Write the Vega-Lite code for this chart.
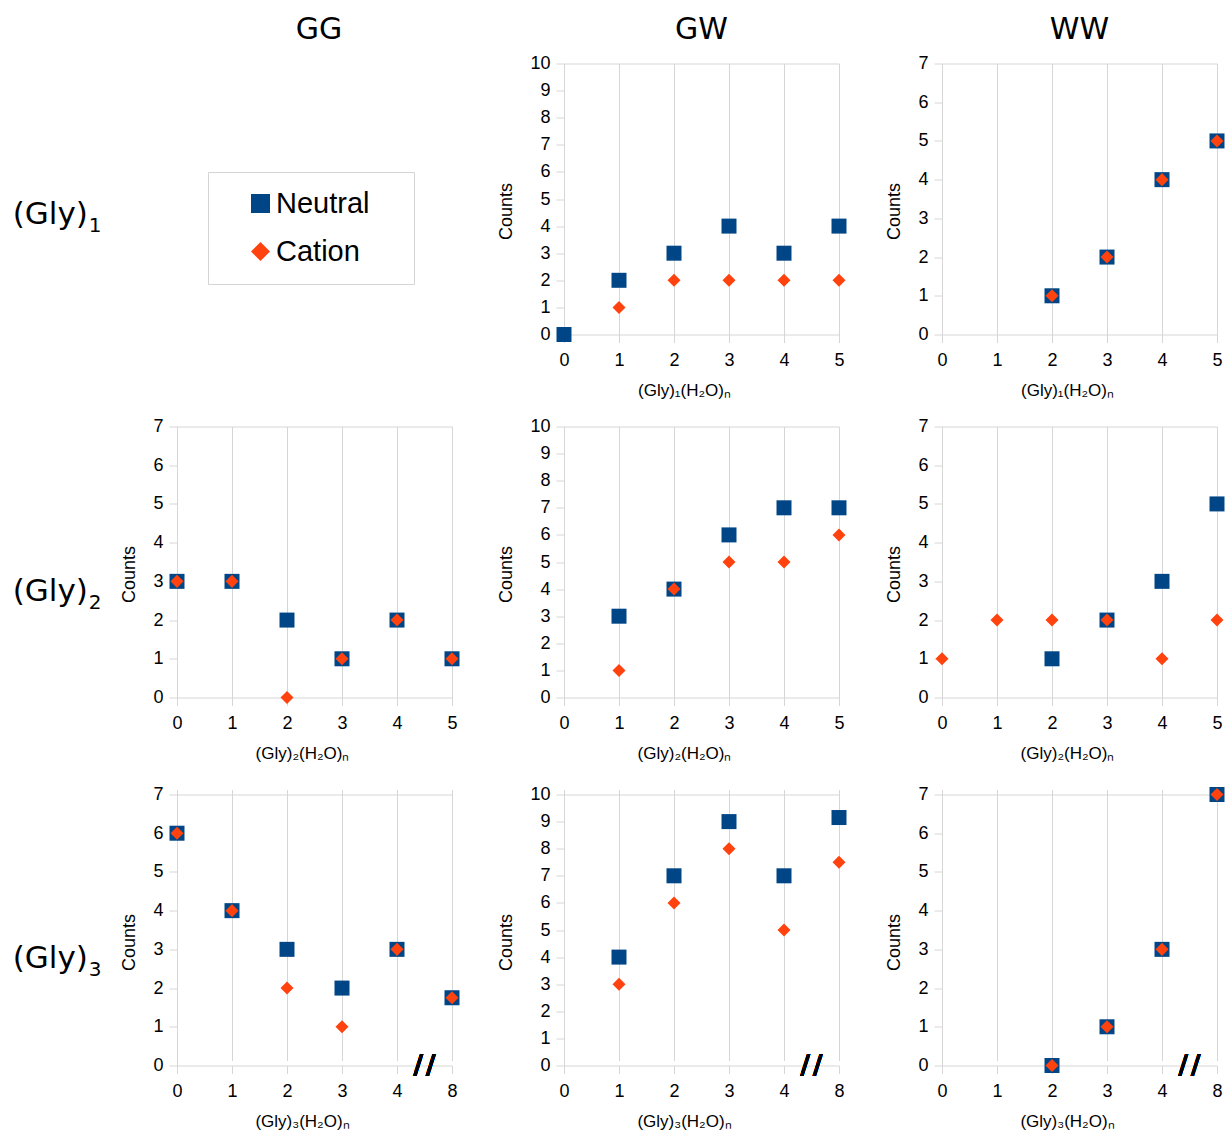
{
  "$schema": "https://vega.github.io/schema/vega-lite/v6.json",
  "padding": {"left": 0, "top": 14.5, "right": 2, "bottom": 2},
  "background": "white",
  "datasets": {
    "pts": [
      {"r": 1, "c": "GW", "n": 0, "t": "Neutral", "v": 0},
      {"r": 1, "c": "GW", "n": 1, "t": "Neutral", "v": 2},
      {"r": 1, "c": "GW", "n": 2, "t": "Neutral", "v": 3},
      {"r": 1, "c": "GW", "n": 3, "t": "Neutral", "v": 4},
      {"r": 1, "c": "GW", "n": 4, "t": "Neutral", "v": 3},
      {"r": 1, "c": "GW", "n": 5, "t": "Neutral", "v": 4},
      {"r": 1, "c": "GW", "n": 1, "t": "Cation", "v": 1},
      {"r": 1, "c": "GW", "n": 2, "t": "Cation", "v": 2},
      {"r": 1, "c": "GW", "n": 3, "t": "Cation", "v": 2},
      {"r": 1, "c": "GW", "n": 4, "t": "Cation", "v": 2},
      {"r": 1, "c": "GW", "n": 5, "t": "Cation", "v": 2},
      {"r": 1, "c": "WW", "n": 2, "t": "Neutral", "v": 1},
      {"r": 1, "c": "WW", "n": 3, "t": "Neutral", "v": 2},
      {"r": 1, "c": "WW", "n": 4, "t": "Neutral", "v": 4},
      {"r": 1, "c": "WW", "n": 5, "t": "Neutral", "v": 5},
      {"r": 1, "c": "WW", "n": 2, "t": "Cation", "v": 1},
      {"r": 1, "c": "WW", "n": 3, "t": "Cation", "v": 2},
      {"r": 1, "c": "WW", "n": 4, "t": "Cation", "v": 4},
      {"r": 1, "c": "WW", "n": 5, "t": "Cation", "v": 5},
      {"r": 2, "c": "GG", "n": 0, "t": "Neutral", "v": 3},
      {"r": 2, "c": "GG", "n": 1, "t": "Neutral", "v": 3},
      {"r": 2, "c": "GG", "n": 2, "t": "Neutral", "v": 2},
      {"r": 2, "c": "GG", "n": 3, "t": "Neutral", "v": 1},
      {"r": 2, "c": "GG", "n": 4, "t": "Neutral", "v": 2},
      {"r": 2, "c": "GG", "n": 5, "t": "Neutral", "v": 1},
      {"r": 2, "c": "GG", "n": 0, "t": "Cation", "v": 3},
      {"r": 2, "c": "GG", "n": 1, "t": "Cation", "v": 3},
      {"r": 2, "c": "GG", "n": 2, "t": "Cation", "v": 0},
      {"r": 2, "c": "GG", "n": 3, "t": "Cation", "v": 1},
      {"r": 2, "c": "GG", "n": 4, "t": "Cation", "v": 2},
      {"r": 2, "c": "GG", "n": 5, "t": "Cation", "v": 1},
      {"r": 2, "c": "GW", "n": 1, "t": "Neutral", "v": 3},
      {"r": 2, "c": "GW", "n": 2, "t": "Neutral", "v": 4},
      {"r": 2, "c": "GW", "n": 3, "t": "Neutral", "v": 6},
      {"r": 2, "c": "GW", "n": 4, "t": "Neutral", "v": 7},
      {"r": 2, "c": "GW", "n": 5, "t": "Neutral", "v": 7},
      {"r": 2, "c": "GW", "n": 1, "t": "Cation", "v": 1},
      {"r": 2, "c": "GW", "n": 2, "t": "Cation", "v": 4},
      {"r": 2, "c": "GW", "n": 3, "t": "Cation", "v": 5},
      {"r": 2, "c": "GW", "n": 4, "t": "Cation", "v": 5},
      {"r": 2, "c": "GW", "n": 5, "t": "Cation", "v": 6},
      {"r": 2, "c": "WW", "n": 2, "t": "Neutral", "v": 1},
      {"r": 2, "c": "WW", "n": 3, "t": "Neutral", "v": 2},
      {"r": 2, "c": "WW", "n": 4, "t": "Neutral", "v": 3},
      {"r": 2, "c": "WW", "n": 5, "t": "Neutral", "v": 5},
      {"r": 2, "c": "WW", "n": 0, "t": "Cation", "v": 1},
      {"r": 2, "c": "WW", "n": 1, "t": "Cation", "v": 2},
      {"r": 2, "c": "WW", "n": 2, "t": "Cation", "v": 2},
      {"r": 2, "c": "WW", "n": 3, "t": "Cation", "v": 2},
      {"r": 2, "c": "WW", "n": 4, "t": "Cation", "v": 1},
      {"r": 2, "c": "WW", "n": 5, "t": "Cation", "v": 2},
      {"r": 3, "c": "GG", "n": 0, "t": "Neutral", "v": 6},
      {"r": 3, "c": "GG", "n": 1, "t": "Neutral", "v": 4},
      {"r": 3, "c": "GG", "n": 2, "t": "Neutral", "v": 3},
      {"r": 3, "c": "GG", "n": 3, "t": "Neutral", "v": 2},
      {"r": 3, "c": "GG", "n": 4, "t": "Neutral", "v": 3},
      {"r": 3, "c": "GG", "n": 8, "t": "Neutral", "v": 1.75},
      {"r": 3, "c": "GG", "n": 0, "t": "Cation", "v": 6},
      {"r": 3, "c": "GG", "n": 1, "t": "Cation", "v": 4},
      {"r": 3, "c": "GG", "n": 2, "t": "Cation", "v": 2},
      {"r": 3, "c": "GG", "n": 3, "t": "Cation", "v": 1},
      {"r": 3, "c": "GG", "n": 4, "t": "Cation", "v": 3},
      {"r": 3, "c": "GG", "n": 8, "t": "Cation", "v": 1.75},
      {"r": 3, "c": "GW", "n": 1, "t": "Neutral", "v": 4},
      {"r": 3, "c": "GW", "n": 2, "t": "Neutral", "v": 7},
      {"r": 3, "c": "GW", "n": 3, "t": "Neutral", "v": 9},
      {"r": 3, "c": "GW", "n": 4, "t": "Neutral", "v": 7},
      {"r": 3, "c": "GW", "n": 8, "t": "Neutral", "v": 9.15},
      {"r": 3, "c": "GW", "n": 1, "t": "Cation", "v": 3},
      {"r": 3, "c": "GW", "n": 2, "t": "Cation", "v": 6},
      {"r": 3, "c": "GW", "n": 3, "t": "Cation", "v": 8},
      {"r": 3, "c": "GW", "n": 4, "t": "Cation", "v": 5},
      {"r": 3, "c": "GW", "n": 8, "t": "Cation", "v": 7.5},
      {"r": 3, "c": "WW", "n": 2, "t": "Neutral", "v": 0},
      {"r": 3, "c": "WW", "n": 3, "t": "Neutral", "v": 1},
      {"r": 3, "c": "WW", "n": 4, "t": "Neutral", "v": 3},
      {"r": 3, "c": "WW", "n": 8, "t": "Neutral", "v": 7},
      {"r": 3, "c": "WW", "n": 2, "t": "Cation", "v": 0},
      {"r": 3, "c": "WW", "n": 3, "t": "Cation", "v": 1},
      {"r": 3, "c": "WW", "n": 4, "t": "Cation", "v": 3},
      {"r": 3, "c": "WW", "n": 8, "t": "Cation", "v": 7}
    ]
  },
  "columns": 4,
  "align": "each",
  "bounds": "flush",
  "spacing": {"row": 92, "column": 103},
  "concat": [
    {
      "width": 73.5, "height": 271,
      "data": {"values": [{"base": "(Gly)", "sub": "1"}]},
      "layer": [
        {"mark": {"type": "text", "font": "DejaVu Sans", "fontSize": 31, "color": "#000", "align": "left", "baseline": "alphabetic", "dx": -24, "dy": 24.5}, "encoding": {"text": {"field": "base", "type": "nominal"}}},
        {"mark": {"type": "text", "font": "DejaVu Sans", "fontSize": 20, "color": "#000", "align": "left", "baseline": "alphabetic", "dx": 52, "dy": 32.5}, "encoding": {"text": {"field": "sub", "type": "nominal"}}}
      ]
    },
    {
      "width": 284, "height": 271,
      "title": {"text": "GG", "offset": 19},
      "data": {"values": [{"label": ""}]},
      "mark": {"type": "text"},
      "encoding": {"text": {"field": "label", "type": "nominal"}}
    },
    {
      "width": 275, "height": 271,
      "title": {"text": "GW", "offset": 10},
      "data": {"name": "pts"},
      "transform": [{"filter": "datum.r == 1 && datum.c == 'GW'"}],
      "encoding": {
        "x": {"field": "n", "type": "ordinal", "scale": {"type": "point", "padding": 0, "domain": [0, 1, 2, 3, 4, 5]}, "axis": {"title": "(Gly)₁(H₂O)ₙ", "grid": true, "labelAngle": 0, "titleX": 120}},
        "y": {"field": "v", "type": "quantitative", "scale": {"domain": [0, 10], "nice": false}, "axis": {"title": "Counts", "tickCount": 10, "grid": true, "titleY": 147.5, "gridOpacity": {"condition": {"test": "datum.value == 10", "value": 1}, "value": 0}}},
        "color": {"field": "t", "type": "nominal", "scale": {"domain": ["Neutral", "Cation"], "range": ["#004586", "#ff420e"]},
          "legend": {"orient": "none", "legendX": 208, "legendY": 108.5, "title": ".", "titleOrient": "right", "titleOpacity": 0, "titleFontSize": 2, "titlePadding": 27, "labelFont": "Liberation Sans", "labelFontSize": 29, "labelColor": "#000", "symbolSize": 361, "symbolStrokeWidth": 0, "strokeColor": "#d4d4d4", "padding": 17, "rowPadding": 18, "symbolOffset": 21, "labelOffset": 1}},
        "shape": {"field": "t", "type": "nominal", "scale": {"domain": ["Neutral", "Cation"], "range": ["square", "diamond"]},
          "legend": {"orient": "none", "legendX": 208, "legendY": 108.5, "title": ".", "titleOrient": "right", "titleOpacity": 0, "titleFontSize": 2, "titlePadding": 27, "labelFont": "Liberation Sans", "labelFontSize": 29, "labelColor": "#000", "symbolSize": 361, "symbolStrokeWidth": 0, "strokeColor": "#d4d4d4", "padding": 17, "rowPadding": 18, "symbolOffset": 21, "labelOffset": 1}}
      },
      "layer": [
        {"transform": [{"filter": "datum.t == 'Neutral'"}], "mark": {"type": "point", "filled": true, "opacity": 1, "size": 225}},
        {"transform": [{"filter": "datum.t == 'Cation'"}], "mark": {"type": "point", "filled": true, "opacity": 1, "size": 170}}
      ]
    },
    {
      "width": 275, "height": 271,
      "title": {"text": "WW", "offset": 10},
      "data": {"name": "pts"},
      "transform": [{"filter": "datum.r == 1 && datum.c == 'WW'"}],
      "encoding": {
        "x": {"field": "n", "type": "ordinal", "scale": {"type": "point", "padding": 0, "domain": [0, 1, 2, 3, 4, 5]}, "axis": {"title": "(Gly)₁(H₂O)ₙ", "grid": true, "labelAngle": 0, "titleX": 125}},
        "y": {"field": "v", "type": "quantitative", "scale": {"domain": [0, 7], "nice": false}, "axis": {"title": "Counts", "tickCount": 7, "grid": true, "titleY": 147.5, "gridOpacity": {"condition": {"test": "datum.value == 7", "value": 1}, "value": 0}}},
        "color": {"field": "t", "type": "nominal", "scale": {"domain": ["Neutral", "Cation"], "range": ["#004586", "#ff420e"]}, "legend": null},
        "shape": {"field": "t", "type": "nominal", "scale": {"domain": ["Neutral", "Cation"], "range": ["square", "diamond"]}, "legend": null}
      },
      "layer": [
        {"transform": [{"filter": "datum.t == 'Neutral'"}], "mark": {"type": "point", "filled": true, "opacity": 1, "size": 225}},
        {"transform": [{"filter": "datum.t == 'Cation'"}], "mark": {"type": "point", "filled": true, "opacity": 1, "size": 170}}
      ]
    },
    {
      "width": 73.5, "height": 271,
      "data": {"values": [{"base": "(Gly)", "sub": "2"}]},
      "layer": [
        {"mark": {"type": "text", "font": "DejaVu Sans", "fontSize": 31, "color": "#000", "align": "left", "baseline": "alphabetic", "dx": -24, "dy": 38.5}, "encoding": {"text": {"field": "base", "type": "nominal"}}},
        {"mark": {"type": "text", "font": "DejaVu Sans", "fontSize": 20, "color": "#000", "align": "left", "baseline": "alphabetic", "dx": 52, "dy": 46.5}, "encoding": {"text": {"field": "sub", "type": "nominal"}}}
      ]
    },
    {
      "width": 284, "height": 271,
      "data": {"name": "pts"},
      "transform": [{"filter": "datum.r == 2 && datum.c == 'GG'"}],
      "encoding": {
        "x": {"field": "n", "type": "ordinal", "scale": {"type": "point", "padding": 0, "domain": [0, 1, 2, 3, 4, 5], "range": [0, 275]}, "axis": {"title": "(Gly)₂(H₂O)ₙ", "grid": true, "labelAngle": 0, "titleX": 125}},
        "y": {"field": "v", "type": "quantitative", "scale": {"domain": [0, 7], "nice": false}, "axis": {"title": "Counts", "tickCount": 7, "grid": true, "titleY": 147.5, "gridOpacity": {"condition": {"test": "datum.value == 7", "value": 1}, "value": 0}}},
        "color": {"field": "t", "type": "nominal", "scale": {"domain": ["Neutral", "Cation"], "range": ["#004586", "#ff420e"]}, "legend": null},
        "shape": {"field": "t", "type": "nominal", "scale": {"domain": ["Neutral", "Cation"], "range": ["square", "diamond"]}, "legend": null}
      },
      "layer": [
        {"transform": [{"filter": "datum.t == 'Neutral'"}], "mark": {"type": "point", "filled": true, "opacity": 1, "size": 225}},
        {"transform": [{"filter": "datum.t == 'Cation'"}], "mark": {"type": "point", "filled": true, "opacity": 1, "size": 170}}
      ]
    },
    {
      "width": 275, "height": 271,
      "data": {"name": "pts"},
      "transform": [{"filter": "datum.r == 2 && datum.c == 'GW'"}],
      "encoding": {
        "x": {"field": "n", "type": "ordinal", "scale": {"type": "point", "padding": 0, "domain": [0, 1, 2, 3, 4, 5]}, "axis": {"title": "(Gly)₂(H₂O)ₙ", "grid": true, "labelAngle": 0, "titleX": 120}},
        "y": {"field": "v", "type": "quantitative", "scale": {"domain": [0, 10], "nice": false}, "axis": {"title": "Counts", "tickCount": 10, "grid": true, "titleY": 147.5, "gridOpacity": {"condition": {"test": "datum.value == 10", "value": 1}, "value": 0}}},
        "color": {"field": "t", "type": "nominal", "scale": {"domain": ["Neutral", "Cation"], "range": ["#004586", "#ff420e"]}, "legend": null},
        "shape": {"field": "t", "type": "nominal", "scale": {"domain": ["Neutral", "Cation"], "range": ["square", "diamond"]}, "legend": null}
      },
      "layer": [
        {"transform": [{"filter": "datum.t == 'Neutral'"}], "mark": {"type": "point", "filled": true, "opacity": 1, "size": 225}},
        {"transform": [{"filter": "datum.t == 'Cation'"}], "mark": {"type": "point", "filled": true, "opacity": 1, "size": 170}}
      ]
    },
    {
      "width": 275, "height": 271,
      "data": {"name": "pts"},
      "transform": [{"filter": "datum.r == 2 && datum.c == 'WW'"}],
      "encoding": {
        "x": {"field": "n", "type": "ordinal", "scale": {"type": "point", "padding": 0, "domain": [0, 1, 2, 3, 4, 5]}, "axis": {"title": "(Gly)₂(H₂O)ₙ", "grid": true, "labelAngle": 0, "titleX": 125}},
        "y": {"field": "v", "type": "quantitative", "scale": {"domain": [0, 7], "nice": false}, "axis": {"title": "Counts", "tickCount": 7, "grid": true, "titleY": 147.5, "gridOpacity": {"condition": {"test": "datum.value == 7", "value": 1}, "value": 0}}},
        "color": {"field": "t", "type": "nominal", "scale": {"domain": ["Neutral", "Cation"], "range": ["#004586", "#ff420e"]}, "legend": null},
        "shape": {"field": "t", "type": "nominal", "scale": {"domain": ["Neutral", "Cation"], "range": ["square", "diamond"]}, "legend": null}
      },
      "layer": [
        {"transform": [{"filter": "datum.t == 'Neutral'"}], "mark": {"type": "point", "filled": true, "opacity": 1, "size": 225}},
        {"transform": [{"filter": "datum.t == 'Cation'"}], "mark": {"type": "point", "filled": true, "opacity": 1, "size": 170}}
      ]
    },
    {
      "width": 73.5, "height": 276,
      "data": {"values": [{"base": "(Gly)", "sub": "3"}]},
      "layer": [
        {"mark": {"type": "text", "font": "DejaVu Sans", "fontSize": 31, "color": "#000", "align": "left", "baseline": "alphabetic", "dx": -24, "dy": 40}, "encoding": {"text": {"field": "base", "type": "nominal"}}},
        {"mark": {"type": "text", "font": "DejaVu Sans", "fontSize": 20, "color": "#000", "align": "left", "baseline": "alphabetic", "dx": 52, "dy": 48}, "encoding": {"text": {"field": "sub", "type": "nominal"}}}
      ]
    },
    {
      "width": 284, "height": 276,
      "data": {"name": "pts"},
      "transform": [{"filter": "datum.r == 3 && datum.c == 'GG'"}],
      "encoding": {
        "x": {"field": "n", "type": "ordinal", "scale": {"type": "point", "padding": 0, "domain": [0, 1, 2, 3, 4, 8], "range": [0, 275]}, "axis": {"title": "(Gly)₃(H₂O)ₙ", "grid": true, "labelAngle": 0, "titleX": 125}},
        "y": {"field": "v", "type": "quantitative", "scale": {"domain": [0, 7], "nice": false, "range": [276, 5]}, "axis": {"title": "Counts", "tickCount": 7, "grid": true, "titleY": 152.5, "gridOpacity": {"condition": {"test": "datum.value == 7", "value": 1}, "value": 0}}},
        "color": {"field": "t", "type": "nominal", "scale": {"domain": ["Neutral", "Cation"], "range": ["#004586", "#ff420e"]}, "legend": null},
        "shape": {"field": "t", "type": "nominal", "scale": {"domain": ["Neutral", "Cation"], "range": ["square", "diamond"]}, "legend": null}
      },
      "layer": [
        {"transform": [{"filter": "datum.t == 'Neutral'"}], "mark": {"type": "point", "filled": true, "opacity": 1, "size": 225}},
        {"transform": [{"filter": "datum.t == 'Cation'"}], "mark": {"type": "point", "filled": true, "opacity": 1, "size": 170}},
        {"mark": {"type": "text", "text": "/\u200a/", "font": "DejaVu Sans", "fontSize": 27, "fontWeight": "bold", "color": "#000", "baseline": "middle", "dx": 27.5},
         "encoding": {"x": {"datum": 4, "type": "ordinal"}, "y": {"datum": 0, "type": "quantitative"}, "color": null, "shape": null}}
      ]
    },
    {
      "width": 275, "height": 276,
      "data": {"name": "pts"},
      "transform": [{"filter": "datum.r == 3 && datum.c == 'GW'"}],
      "encoding": {
        "x": {"field": "n", "type": "ordinal", "scale": {"type": "point", "padding": 0, "domain": [0, 1, 2, 3, 4, 8]}, "axis": {"title": "(Gly)₃(H₂O)ₙ", "grid": true, "labelAngle": 0, "titleX": 120}},
        "y": {"field": "v", "type": "quantitative", "scale": {"domain": [0, 10], "nice": false, "range": [276, 5]}, "axis": {"title": "Counts", "tickCount": 10, "grid": true, "titleY": 152.5, "gridOpacity": {"condition": {"test": "datum.value == 10", "value": 1}, "value": 0}}},
        "color": {"field": "t", "type": "nominal", "scale": {"domain": ["Neutral", "Cation"], "range": ["#004586", "#ff420e"]}, "legend": null},
        "shape": {"field": "t", "type": "nominal", "scale": {"domain": ["Neutral", "Cation"], "range": ["square", "diamond"]}, "legend": null}
      },
      "layer": [
        {"transform": [{"filter": "datum.t == 'Neutral'"}], "mark": {"type": "point", "filled": true, "opacity": 1, "size": 225}},
        {"transform": [{"filter": "datum.t == 'Cation'"}], "mark": {"type": "point", "filled": true, "opacity": 1, "size": 170}},
        {"mark": {"type": "text", "text": "/\u200a/", "font": "DejaVu Sans", "fontSize": 27, "fontWeight": "bold", "color": "#000", "baseline": "middle", "dx": 27.5},
         "encoding": {"x": {"datum": 4, "type": "ordinal"}, "y": {"datum": 0, "type": "quantitative"}, "color": null, "shape": null}}
      ]
    },
    {
      "width": 275, "height": 276,
      "data": {"name": "pts"},
      "transform": [{"filter": "datum.r == 3 && datum.c == 'WW'"}],
      "encoding": {
        "x": {"field": "n", "type": "ordinal", "scale": {"type": "point", "padding": 0, "domain": [0, 1, 2, 3, 4, 8]}, "axis": {"title": "(Gly)₃(H₂O)ₙ", "grid": true, "labelAngle": 0, "titleX": 125}},
        "y": {"field": "v", "type": "quantitative", "scale": {"domain": [0, 7], "nice": false, "range": [276, 5]}, "axis": {"title": "Counts", "tickCount": 7, "grid": true, "titleY": 152.5, "gridOpacity": {"condition": {"test": "datum.value == 7", "value": 1}, "value": 0}}},
        "color": {"field": "t", "type": "nominal", "scale": {"domain": ["Neutral", "Cation"], "range": ["#004586", "#ff420e"]}, "legend": null},
        "shape": {"field": "t", "type": "nominal", "scale": {"domain": ["Neutral", "Cation"], "range": ["square", "diamond"]}, "legend": null}
      },
      "layer": [
        {"transform": [{"filter": "datum.t == 'Neutral'"}], "mark": {"type": "point", "filled": true, "opacity": 1, "size": 225}},
        {"transform": [{"filter": "datum.t == 'Cation'"}], "mark": {"type": "point", "filled": true, "opacity": 1, "size": 170}},
        {"mark": {"type": "text", "text": "/\u200a/", "font": "DejaVu Sans", "fontSize": 27, "fontWeight": "bold", "color": "#000", "baseline": "middle", "dx": 27.5},
         "encoding": {"x": {"datum": 4, "type": "ordinal"}, "y": {"datum": 0, "type": "quantitative"}, "color": null, "shape": null}}
      ]
    }
  ],
  "config": {
    "view": {"stroke": null},
    "axis": {
      "gridColor": "#d6d6d6", "domainColor": "#d6d6d6", "tickColor": "#d6d6d6",
      "labelFont": "Liberation Sans", "labelFontSize": 18, "labelColor": "#000",
      "titleFont": "Liberation Sans", "titleFontWeight": "normal", "titleColor": "#000",
      "tickSize": 8
    },
    "axisX": {"labelPadding": 9, "titleFontSize": 17, "titlePadding": 13},
    "axisY": {"labelPadding": 6, "titleFontSize": 18, "titlePadding": 14},
    "title": {"font": "DejaVu Sans", "fontSize": 30, "fontWeight": "normal", "color": "#000"}
  }
}
